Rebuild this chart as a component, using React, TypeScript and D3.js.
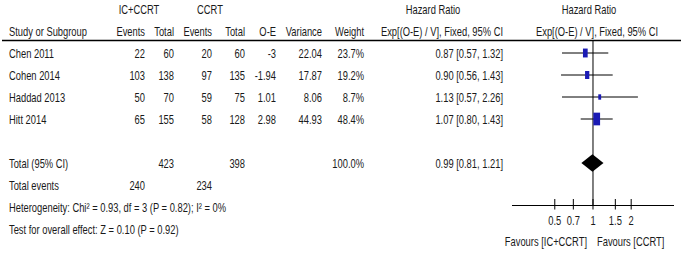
import React from "react";
import * as d3 from "d3";

const studies = ["Chen 2011", "Cohen 2014", "Haddad 2013", "Hitt 2014"];
const icEvents = [22, 103, 50, 65];
const icTotal = [60, 138, 70, 155];
const ccrtEvents = [20, 97, 59, 58];
const ccrtTotal = [60, 135, 75, 128];
const oe = ["-3", "-1.94", "1.01", "2.98"];
const variance = ["22.04", "17.87", "8.06", "44.93"];
const weight = [23.7, 19.2, 8.7, 48.4];
const hr = [0.87, 0.9, 1.13, 1.07];
const lo = [0.57, 0.56, 0.57, 0.8];
const hi = [1.32, 1.43, 2.26, 1.43];

const totalIcTotal = 423;
const totalCcrtTotal = 398;
const totalIcEvents = 240;
const totalCcrtEvents = 234;
const pooled = { hr: 0.99, lo: 0.81, hi: 1.21 };
const ticks = [0.5, 0.7, 1, 1.5, 2];
const axisExtent = [0.23, 4.35];
const hetText = "Heterogeneity: Chi\u00b2 = 0.93, df = 3 (P = 0.82); I\u00b2 = 0%";
const testText = "Test for overall effect: Z = 0.10 (P = 0.92)";

const FONT = "'Liberation Sans', Arial, sans-serif";
const fmt2 = (v: number) => v.toFixed(2);

const T = ({ x, y, anchor, children }: any) => (
  <text
    transform={`translate(${x},${y + 4.6}) scale(0.72,1)`}
    fontFamily={FONT}
    fontSize={13}
    fill="#1a1a1a"
    textAnchor={anchor || "start"}
  >
    {children}
  </text>
);

export default function App() {
  const W = 685;
  const H = 255;
  const x = d3.scaleLog().domain(axisExtent).range([512, 674]);
  // rows on a 22px grid: row 0 = first header line
  const rowY = d3.scaleLinear().domain([0, 1]).range([9, 31]);
  const boxH = d3.scaleSqrt().domain([0, 48.4]).range([0, 12.7]);
  const color = "#1a1ab4";

  const cols = { icE: 145, icT: 174, ccE: 212, ccT: 245, oe: 276, v: 322, w: 364, hr: 503 };

  const h1 = rowY(0);
  const h2 = rowY(1);
  const totalY = rowY(7);
  const evY = rowY(8);
  const hetY = rowY(9);
  const testY = rowY(10);
  const axisY = 205.5;
  const lineY = 40.5;

  return (
    <svg width={W} height={H} style={{ position: "absolute", left: 0, top: 0, background: "#fff" }}>
      <rect width={W} height={H} fill="#fff" />
      {/* headers */}
      <T x={139} y={h1} anchor="middle">IC+CCRT</T>
      <T x={210} y={h1} anchor="middle">CCRT</T>
      <T x={433} y={h1} anchor="middle">Hazard Ratio</T>
      <T x={589} y={h1} anchor="middle">Hazard Ratio</T>
      <T x={9} y={h2}>Study or Subgroup</T>
      <T x={cols.icE} y={h2} anchor="end">Events</T>
      <T x={cols.icT} y={h2} anchor="end">Total</T>
      <T x={cols.ccE} y={h2} anchor="end">Events</T>
      <T x={cols.ccT} y={h2} anchor="end">Total</T>
      <T x={cols.oe} y={h2} anchor="end">O-E</T>
      <T x={cols.v} y={h2} anchor="end">Variance</T>
      <T x={cols.w} y={h2} anchor="end">Weight</T>
      <T x={cols.hr} y={h2} anchor="end">Exp[(O-E) / V], Fixed, 95% CI</T>
      <T x={597} y={h2} anchor="middle">Exp[(O-E) / V], Fixed, 95% CI</T>
      <line x1={2} x2={681} y1={lineY} y2={lineY} stroke="#000" strokeWidth={1.3} />

      {/* null line */}
      <line x1={x(1)} x2={x(1)} y1={lineY} y2={axisY} stroke="#000" strokeWidth={1} />

      {studies.map((s, i) => {
        const y = rowY(i + 2);
        const h = boxH(weight[i]);
        const w = h * 0.53;
        return (
          <g key={s}>
            <T x={9} y={y}>{s}</T>
            <T x={cols.icE} y={y} anchor="end">{icEvents[i]}</T>
            <T x={cols.icT} y={y} anchor="end">{icTotal[i]}</T>
            <T x={cols.ccE} y={y} anchor="end">{ccrtEvents[i]}</T>
            <T x={cols.ccT} y={y} anchor="end">{ccrtTotal[i]}</T>
            <T x={cols.oe} y={y} anchor="end">{oe[i]}</T>
            <T x={cols.v} y={y} anchor="end">{variance[i]}</T>
            <T x={cols.w} y={y} anchor="end">{weight[i].toFixed(1)}%</T>
            <T x={cols.hr} y={y} anchor="end">{`${fmt2(hr[i])} [${fmt2(lo[i])}, ${fmt2(hi[i])}]`}</T>
            <line x1={x(lo[i])} x2={x(hi[i])} y1={y} y2={y} stroke="#000" strokeWidth={1} />
            <rect x={x(hr[i]) - w / 2} y={y - h / 2} width={w} height={h} fill={color} />
          </g>
        );
      })}

      {/* totals */}
      <T x={9} y={totalY}>Total (95% CI)</T>
      <T x={cols.icT} y={totalY} anchor="end">{totalIcTotal}</T>
      <T x={cols.ccT} y={totalY} anchor="end">{totalCcrtTotal}</T>
      <T x={cols.w} y={totalY} anchor="end">100.0%</T>
      <T x={cols.hr} y={totalY} anchor="end">{`${fmt2(pooled.hr)} [${fmt2(pooled.lo)}, ${fmt2(pooled.hi)}]`}</T>
      <path
        d={`M${x(pooled.lo)},${totalY} L${x(pooled.hr)},${totalY - 8.7} L${x(pooled.hi)},${totalY} L${x(pooled.hr)},${totalY + 8.7} Z`}
        fill="#000"
      />
      <T x={9} y={evY}>Total events</T>
      <T x={cols.icE} y={evY} anchor="end">{totalIcEvents}</T>
      <T x={cols.ccE} y={evY} anchor="end">{totalCcrtEvents}</T>
      <T x={9} y={hetY}>{hetText}</T>
      <T x={9} y={testY}>{testText}</T>

      {/* axis */}
      <line x1={x(axisExtent[0])} x2={x(axisExtent[1])} y1={axisY} y2={axisY} stroke="#000" strokeWidth={1} />
      {ticks.map((t) => (
        <g key={t}>
          <line x1={x(t)} x2={x(t)} y1={axisY - 6.5} y2={axisY + 4} stroke="#000" strokeWidth={1} />
          <T x={x(t)} y={220} anchor="middle">{String(t)}</T>
        </g>
      ))}
      <T x={587} y={241} anchor="end">Favours [IC+CCRT]</T>
      <T x={597} y={241}>Favours [CCRT]</T>
    </svg>
  );
}
